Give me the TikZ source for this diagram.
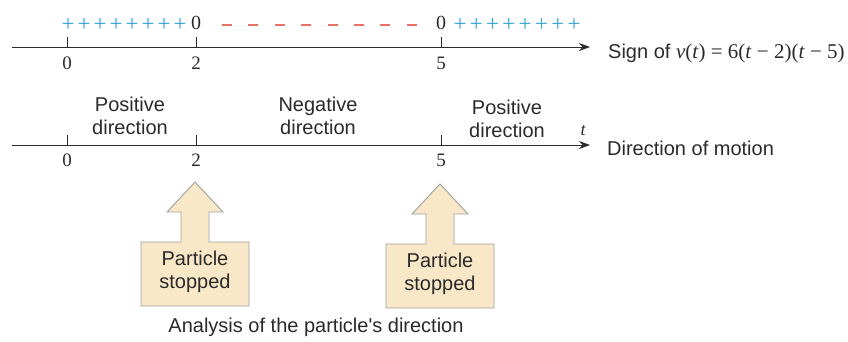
\documentclass[tikz,border=0pt]{standalone}
\usepackage{fontspec}
\setmainfont{Liberation Serif}
\setsansfont{Liberation Sans}[Ligatures=TeXOff]
\usetikzlibrary{arrows.meta}
\definecolor{plusblue}{HTML}{3BA3DB}
\definecolor{minusred}{HTML}{EC6F6A}
\definecolor{boxfill}{HTML}{F8E8C8}
\definecolor{ink}{HTML}{2A2A2A}
\begin{document}
\begin{tikzpicture}[x=1pt,y=-1pt,
  axis/.style={draw=ink,line width=0.9pt,-{Stealth[length=11pt,width=8pt]}},
  tick/.style={draw=ink,line width=0.8pt},
  num/.style={font=\fontsize{19}{22}\selectfont\rmfamily,text=ink,inner sep=0pt},
  lab/.style={font=\fontsize{20}{23}\selectfont\sffamily,text=ink,inner sep=0pt,align=center},
  plusmark/.style={font=\fontsize{23}{24}\selectfont\rmfamily,text=plusblue,inner sep=0pt},
  minusmark/.style={draw=minusred,line width=1.6pt},
  callout/.style={draw=gray!75,line width=0.9pt,fill=boxfill,line join=miter}
]
\useasboundingbox (0,0) rectangle (848,341);

% ---------- top axis ----------
\coordinate (a1s) at (12,47);
\coordinate (a1e) at (590,47);
\draw[axis] (a1s) -- (a1e);
\foreach \xx/\nm/\lb in {67/t0/0,196/t2/2,441/t5/5}{
  \draw[tick] (\xx,37) -- (\xx,47);
  \node[num] (top\nm) at (\xx,63) {\lb};
}
\node[num,font=\fontsize{20}{22}\selectfont\rmfamily] (z1) at (196,23) {0};
\node[num,font=\fontsize{20}{22}\selectfont\rmfamily] (z2) at (441,23) {0};
\foreach \k in {0,...,7}{
  \node[plusmark] (pl\k) at ({68+16*\k},25) {+};
  \node[plusmark] (pr\k) at ({460+16.3*\k},25) {+};
  \draw[minusmark] ({222+26.4*\k},25) -- ({232+26.4*\k},25);
}
\node[lab,anchor=west] (sign) at (608,53) {Sign of {\fontsize{21}{23}\selectfont\rmfamily\textit{v}(\textit{t}) = 6(\textit{t} − 2)(\textit{t} − 5)}};

% ---------- bottom axis ----------
\coordinate (a2s) at (12,145);
\coordinate (a2e) at (590,145);
\draw[axis] (a2s) -- (a2e);
\foreach \xx/\nm/\lb in {67/b0/0,196/b2/2,441/b5/5}{
  \draw[tick] (\xx,135) -- (\xx,145);
  \node[num] (bot\nm) at (\xx,160) {\lb};
}
\node[num,font=\fontsize{18}{20}\selectfont\rmfamily\itshape] (tlab) at (583,131) {t};
\node[lab] (pos1) at (130,116) {Positive\\direction};
\node[lab] (neg) at (318,116) {Negative\\direction};
\node[lab] (pos2) at (507,119) {Positive\\direction};
\node[lab,anchor=west] (dir) at (607,148) {Direction of motion};

% ---------- callouts ----------
\foreach \cx/\ty/\nm in {195/182/s1,440/184/s2}{
  \begin{scope}[shift={(\cx,\ty)}]
    \draw[callout] (0,0) -- (28,30) -- (14,30) -- (14,60) -- (54,60) -- (54,124)
      -- (-54,124) -- (-54,60) -- (-14,60) -- (-14,30) -- (-28,30) -- cycle;
    \node[lab] (\nm) at (0,90) {Particle\\stopped};
  \end{scope}
}

\node[lab] (cap) at (316,327) {Analysis of the particle's direction};
\end{tikzpicture}
\end{document}
